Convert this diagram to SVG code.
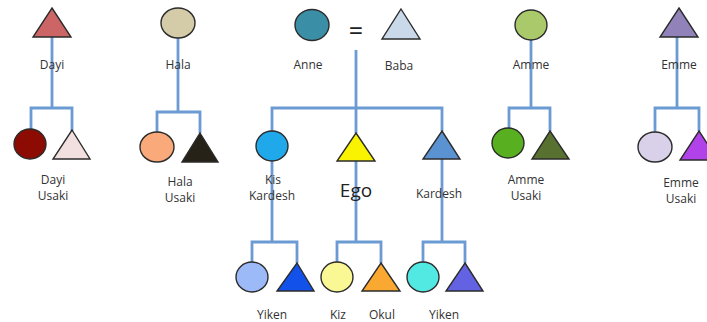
<svg xmlns="http://www.w3.org/2000/svg" width="707" height="322" viewBox="0 0 707 322">
  <style>
    .bg { fill: #ffffff; }
    .link { fill: none; stroke: #6b9bd2; stroke-width: 2.8; }
    .shape { stroke: #2b2b2b; stroke-width: 1.4; }
    .lbl { font-family: "Open Sans", "Liberation Sans", sans-serif; font-size: 12px; fill: #333333; text-anchor: middle; }
    .big { font-family: "Open Sans", "Liberation Sans", sans-serif; font-size: 19px; fill: #222222; text-anchor: middle; }
    .eq { font-family: "Open Sans", "Liberation Sans", sans-serif; font-size: 25px; fill: #222222; text-anchor: middle; }
  </style>
  <rect class="bg" x="0" y="0" width="707" height="322"/>

  <!-- lines of descent -->
  <g id="connectors">
    <!-- Dayi -->
    <path class="link" d="M52 37 V108 M31 130 V108 H72 V131"/>
    <!-- Hala -->
    <path class="link" d="M178 38 V112 M157 132 V112 H200 V133"/>
    <!-- Anne = Baba -->
    <path class="link" d="M356 50 V108 M272 131 V108 H442 V131 M356 108 V133"/>
    <!-- Amme -->
    <path class="link" d="M531 40 V108 M509 128 V108 H550 V131"/>
    <!-- Emme -->
    <path class="link" d="M677 37 V108 M655 132 V108 H699 V131"/>
    <!-- Kis Kardesh -->
    <path class="link" d="M272 150 V242 M252 262 V242 H297 V263"/>
    <!-- Ego -->
    <path class="link" d="M356 155 V242 M337 262 V242 H381 V263"/>
    <!-- Kardesh -->
    <path class="link" d="M442 150 V242 M423 262 V242 H465 V263"/>
  </g>

  <!-- first generation -->
  <g id="dayi">
    <polygon class="shape" points="52,8 71,37 33,37" fill="#cc6666"/>
    <text class="lbl" x="52" y="69">Dayi</text>
  </g>
  <g id="hala">
    <ellipse class="shape" cx="178" cy="23" rx="17" ry="15" fill="#d4cca8"/>
    <text class="lbl" x="178" y="69">Hala</text>
  </g>
  <g id="anne">
    <ellipse class="shape" cx="312" cy="25" rx="17" ry="15.5" fill="#3a8fa6"/>
    <text class="lbl" x="308" y="69">Anne</text>
  </g>
  <g id="marriage">
    <text class="eq" x="356" y="40">=</text>
  </g>
  <g id="baba">
    <polygon class="shape" points="401,9 420,39 382,39" fill="#c9d9ea"/>
    <text class="lbl" x="399" y="70">Baba</text>
  </g>
  <g id="amme">
    <ellipse class="shape" cx="531" cy="25" rx="16" ry="15" fill="#a9c96a"/>
    <text class="lbl" x="531" y="69">Amme</text>
  </g>
  <g id="emme">
    <polygon class="shape" points="679,8 698,37 660,37" fill="#9182ba"/>
    <text class="lbl" x="679" y="69">Emme</text>
  </g>

  <!-- second generation -->
  <g id="dayi-usaki">
    <ellipse class="shape" cx="30" cy="144" rx="16" ry="15" fill="#8c0c04"/>
    <polygon class="shape" points="72,130 90,159 53,159" fill="#f2dfe0"/>
    <text class="lbl" x="53" y="184">Dayi</text>
    <text class="lbl" x="53" y="200">Usaki</text>
  </g>
  <g id="hala-usaki">
    <ellipse class="shape" cx="157" cy="147" rx="17" ry="15" fill="#f9a97a"/>
    <polygon class="shape" points="200,133 218,162 182,162" fill="#272218"/>
    <text class="lbl" x="180" y="186">Hala</text>
    <text class="lbl" x="180" y="202">Usaki</text>
  </g>
  <g id="kis-kardesh">
    <ellipse class="shape" cx="272" cy="146" rx="16" ry="15" fill="#1fa9ea"/>
    <text class="lbl" x="273" y="184">Kis</text>
    <text class="lbl" x="272" y="200">Kardesh</text>
  </g>
  <g id="ego">
    <polygon class="shape" points="356,133 375,161 337,161" fill="#f9f200"/>
    <text class="big" x="356" y="197">Ego</text>
  </g>
  <g id="kardesh">
    <polygon class="shape" points="442,131 460,159 423,159" fill="#5b92d2"/>
    <text class="lbl" x="439" y="198">Kardesh</text>
  </g>
  <g id="amme-usaki">
    <ellipse class="shape" cx="508" cy="143" rx="16" ry="15" fill="#58b020"/>
    <polygon class="shape" points="550,131 569,159 532,159" fill="#587131"/>
    <text class="lbl" x="526" y="184">Amme</text>
    <text class="lbl" x="526" y="200">Usaki</text>
  </g>
  <g id="emme-usaki">
    <ellipse class="shape" cx="655" cy="147" rx="17" ry="15" fill="#d9d1e9"/>
    <polygon class="shape" points="699,131 718,160 680,160" fill="#b142ea"/>
    <text class="lbl" x="681" y="187">Emme</text>
    <text class="lbl" x="681" y="203">Usaki</text>
  </g>

  <!-- third generation -->
  <g id="kis-kardesh-children">
    <ellipse class="shape" cx="252" cy="277" rx="16" ry="15" fill="#9cbaf8"/>
    <polygon class="shape" points="297,263 314,291 277,291" fill="#1352ea"/>
    <text class="lbl" x="272" y="319">Yiken</text>
  </g>
  <g id="ego-children">
    <ellipse class="shape" cx="337" cy="277" rx="16" ry="15" fill="#f9f894"/>
    <polygon class="shape" points="381,263 400,291 362,291" fill="#f9a932"/>
    <text class="lbl" x="338" y="319">Kiz</text>
    <text class="lbl" x="382" y="319">Okul</text>
  </g>
  <g id="kardesh-children">
    <ellipse class="shape" cx="423" cy="277" rx="16" ry="15" fill="#52e9e2"/>
    <polygon class="shape" points="465,263 483,291 446,291" fill="#6262e2"/>
    <text class="lbl" x="444" y="319">Yiken</text>
  </g>
</svg>
